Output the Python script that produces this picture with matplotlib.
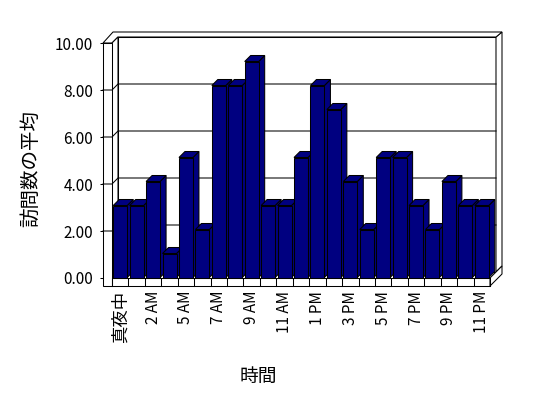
import numpy as np
import matplotlib
matplotlib.use("Agg")
import matplotlib.pyplot as plt
from matplotlib.patches import Polygon

plt.rcParams["font.family"] = ["Noto Sans CJK JP", "DejaVu Sans"]

# ------------------------------------
# Data
# ------------------------------------
hours = ["真夜中", "1 AM", "2 AM", "4 AM", "5 AM", "6 AM", "7 AM", "8 AM",
         "9 AM", "10 AM", "11 AM", "12 PM", "1 PM", "2 PM", "3 PM", "4 PM",
         "5 PM", "6 PM", "7 PM", "8 PM", "9 PM", "10 PM", "11 PM"]
visits = [3, 3, 4, 1, 5, 2, 8, 8, 9, 3, 3, 5, 8, 7, 4, 2, 5, 5, 3, 2, 4, 3, 3]
y_ticks = [0, 2, 4, 6, 8, 10]

# ------------------------------------
# Layout (pixels)
# ------------------------------------
W, H = 548, 398
NAVY = "#000080"
LW = 0.75
depth = 6  # 3D depth offset in px
x_wall, x_front, x_end = 103, 112, 490
y_zero, px_unit = 278, 23.5

fig = plt.figure(figsize=(W / 100, H / 100), dpi=100)

# walls / grid axes: x in pixels, y in values
axg = fig.add_axes([x_wall / W, (H - y_zero) / H,
                    (x_end - x_wall) / W, 10 * px_unit / H])
axg.set_xlim(x_wall, x_end)
axg.set_ylim(0, 10)
axg.patch.set_alpha(0)
for s in axg.spines.values():
    s.set_visible(False)
axg.set_xticks([])
axg.set_yticks(y_ticks)
axg.set_yticklabels(["%.2f" % t for t in y_ticks])
axg.tick_params(axis="y", direction="out", length=2.2, width=LW,
                pad=5, labelsize=11)

dv = depth / px_unit
floor_v = -8 / px_unit
top_out = 10 + 11 / px_unit
xb0, xb1 = x_front + depth, x_end + depth
xo = xb1 + depth

def poly(pts, fc="white"):
    axg.add_patch(Polygon(pts, closed=True, facecolor=fc, edgecolor="black",
                          linewidth=LW, clip_on=False, zorder=1))

# back wall inner face
poly([(xb0, dv), (xb1, dv), (xb1, 10 + dv), (xb0, 10 + dv)])
# back wall right side
poly([(xb1, dv), (xo, 2 * dv), (xo, top_out), (xb1, 10 + dv)])
# top of walls
poly([(x_wall, 10), (x_front + 1, top_out), (xo, top_out),
      (xb1, 10 + dv), (xb0, 10 + dv), (x_front, 10)])
# left wall inner face
poly([(x_front, 0), (xb0, dv), (xb0, 10 + dv), (x_front, 10)])
# left wall front face
poly([(x_wall, floor_v), (x_front, floor_v), (x_front, 10), (x_wall, 10)])
# floor front and right side
poly([(x_front, floor_v), (x_end, floor_v), (x_end, 0), (x_front, 0)])
poly([(x_end, floor_v), (xo, floor_v + 2 * dv), (xo, 2 * dv), (x_end, 0)])

# gridlines
for t in y_ticks[1:-1]:
    axg.plot([x_wall, x_front, xb0, xb1], [t, t, t + dv, t + dv],
             color="black", lw=LW, clip_on=False, zorder=2)

# floor dividers
cat_px = (x_end - x_front) / len(hours)
for k in range(len(hours) + 1):
    xx = x_front + k * cat_px
    axg.plot([xx, xx], [floor_v, 0], color="black", lw=LW,
             clip_on=False, zorder=2)

# ------------------------------------
# Bars
# ------------------------------------
ax = fig.add_axes([x_front / W, (H - 277.5) / H,
                   (x_end - x_front) / W, 240 / H])
ax.set_zorder(3)
ax.patch.set_alpha(0)
ax.set_xlim(-0.5, len(hours) - 0.5)
ax.set_ylim(0, 10)
for s in ax.spines.values():
    s.set_visible(False)
ax.set_yticks([])

x = np.arange(len(hours))
bw = 0.85
dx = depth / cat_px
dy = depth / 24.0

for i, v in enumerate(visits):
    l, r = i - bw / 2, i + bw / 2
    z = 3 * i
    # side
    ax.add_patch(Polygon([(r, 0), (r + dx, dy), (r + dx, v + dy), (r, v)],
                         facecolor=NAVY, edgecolor="black", lw=LW,
                         zorder=z, clip_on=False))
    # top
    ax.add_patch(Polygon([(l, v), (r, v), (r + dx, v + dy), (l + dx, v + dy)],
                         facecolor=NAVY, edgecolor="black", lw=LW,
                         zorder=z + 1, clip_on=False))
    # front
    ax.bar(i, v, width=bw, color=NAVY, edgecolor="black", linewidth=LW,
           zorder=z + 2, clip_on=False)

ax.set_xticks(x[::2])
ax.set_xticklabels(hours[::2], rotation=90, va="top", ha="center")
ax.tick_params(axis="x", length=0, pad=9.5, labelsize=11)
ax.get_xticklabels()[0].set_fontsize(12.5)

# ------------------------------------
# Axis titles
# ------------------------------------
fig.text(258 / W, 1 - 376 / H, "時間", ha="center", va="center", fontsize=13.5)
fig.text(31 / W, 1 - 168 / H, "訪問数の平均", ha="center", va="center",
         rotation=90, fontsize=14)

fig.savefig("out.png", dpi=100, facecolor="white")
